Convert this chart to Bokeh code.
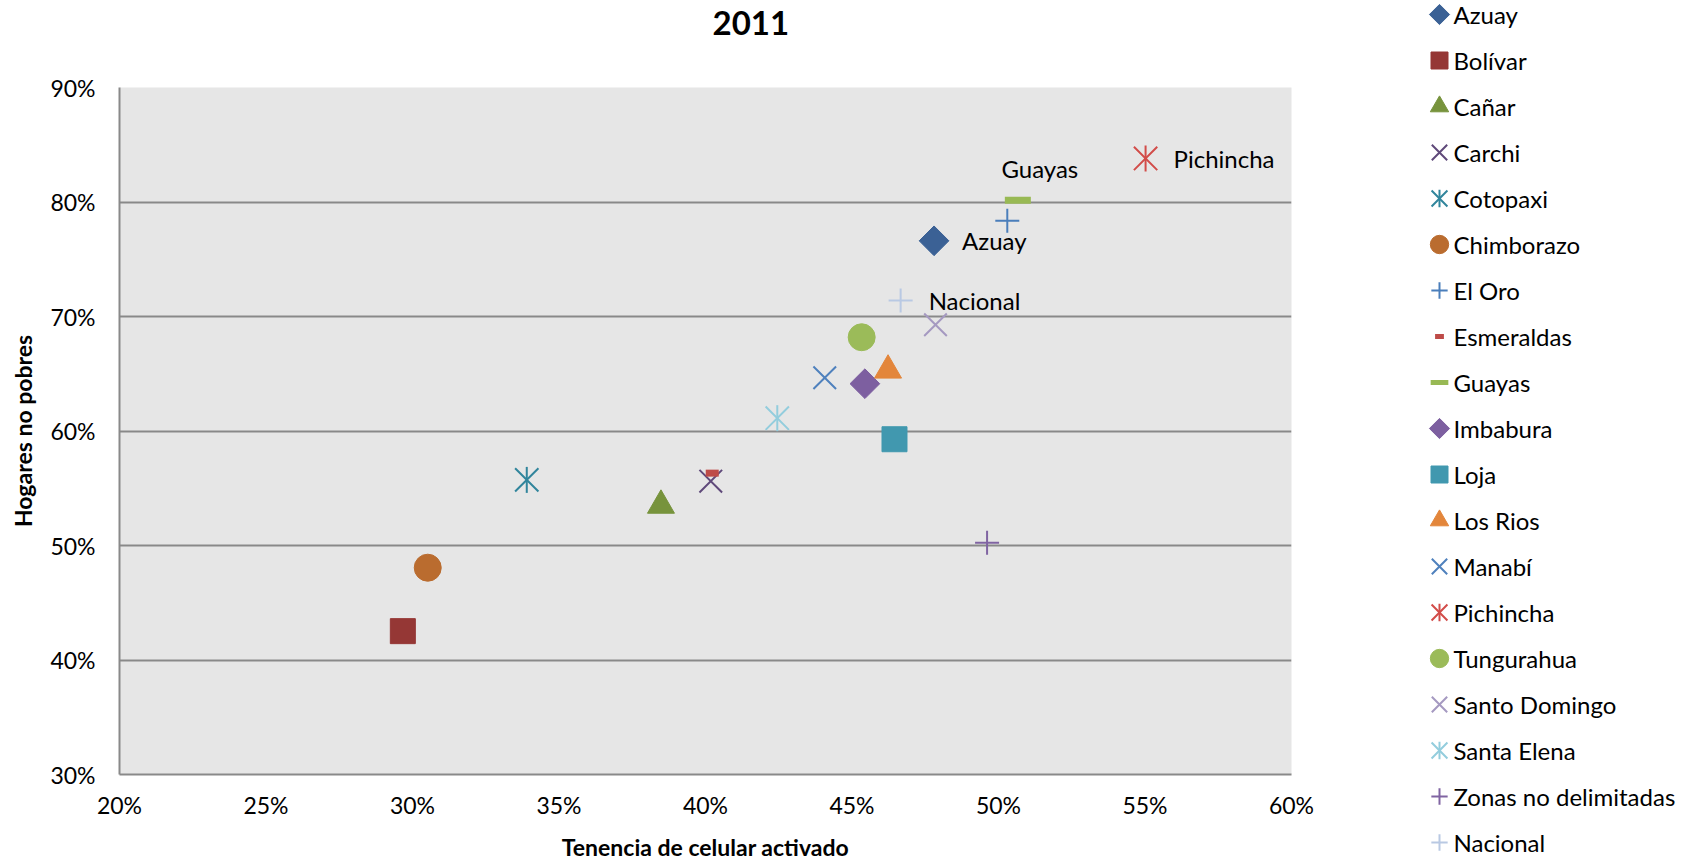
import math
from bokeh.plotting import figure
from bokeh.models import (ColumnDataSource, NumeralTickFormatter, FixedTicker, Range1d, Title)
from bokeh.layouts import row, column
from bokeh.embed import file_html
from bokeh.resources import INLINE
from bokeh.core.properties import value

# ---------------- data ----------------
title_text = "2011"
x_axis_title = "Tenencia de celular activado"
y_axis_title = "Hogares no pobres"

categories = ["Azuay", "Bolívar", "Cañar", "Carchi", "Cotopaxi", "Chimborazo",
              "El Oro", "Esmeraldas", "Guayas", "Imbabura", "Loja", "Los Rios",
              "Manabí", "Pichincha", "Tungurahua", "Santo Domingo", "Santa Elena",
              "Zonas no delimitadas", "Nacional"]
tenencia_celular = [0.478, 0.2967, 0.3848, 0.4018, 0.3390, 0.3052,
                    0.5030, 0.4023, 0.5066, 0.4544, 0.4645, 0.4623,
                    0.4407, 0.5502, 0.4533, 0.4785, 0.4245,
                    0.4961, 0.4666]
hogares_no_pobres = [0.7661, 0.4252, 0.5350, 0.5562, 0.5573, 0.4806,
                     0.7836, 0.5632, 0.8016, 0.6413, 0.5928, 0.6530,
                     0.6465, 0.8380, 0.6819, 0.6928, 0.6112,
                     0.5025, 0.7140]
x_ticks = [0.20, 0.25, 0.30, 0.35, 0.40, 0.45, 0.50, 0.55, 0.60]
y_ticks = [0.30, 0.40, 0.50, 0.60, 0.70, 0.80, 0.90]
labeled_right = ["Azuay", "Nacional", "Pichincha"]
labeled_above = ["Guayas"]

# ---------------- styles ----------------
styles = {
    "Azuay": ("diamond", "#3B6195"),
    "Bolívar": ("square", "#953735"),
    "Cañar": ("triangle", "#77933C"),
    "Carchi": ("x", "#5F497A"),
    "Cotopaxi": ("star", "#31859C"),
    "Chimborazo": ("circle", "#BA6C2F"),
    "El Oro": ("cross", "#4A7EBB"),
    "Esmeraldas": ("smalldash", "#BE4B48"),
    "Guayas": ("bigdash", "#98B954"),
    "Imbabura": ("diamond", "#7D5FA0"),
    "Loja": ("square", "#4198AF"),
    "Los Rios": ("triangle", "#E3863B"),
    "Manabí": ("x", "#4F81BD"),
    "Pichincha": ("star", "#D24C49"),
    "Tungurahua": ("circle", "#9BBB59"),
    "Santo Domingo": ("x", "#A599C1"),
    "Santa Elena": ("star", "#93CDDD"),
    "Zonas no delimitadas": ("cross", "#8064A2"),
    "Nacional": ("cross", "#B9C9E3"),
}

FONT = "Lato"
GRID = "#898989"
FIG_H = 859


def draw_marker(fig, src, kind, color, k):
    """Draw one Excel-like marker; k scales the marker size."""
    rs = []
    if kind == "diamond":
        rs.append(fig.scatter("x", "y", source=src, marker="square", size=21 * k,
                              angle=math.pi / 4, fill_color=color, line_color=color))
    elif kind == "square":
        rs.append(fig.scatter("x", "y", source=src, marker="square", size=25 * k,
                              fill_color=color, line_color=color))
    elif kind == "triangle":
        rs.append(fig.scatter("x", "y", source=src, marker="triangle", size=27 * k,
                              fill_color=color, line_color=color))
    elif kind == "circle":
        rs.append(fig.scatter("x", "y", source=src, marker="circle", size=27 * k,
                              fill_color=color, line_color=color))
    elif kind == "x":
        rs.append(fig.scatter("x", "y", source=src, marker="x", size=32 * k,
                              line_color=color, line_width=2))
    elif kind == "cross":
        rs.append(fig.scatter("x", "y", source=src, marker="cross", size=24 * k,
                              line_color=color, line_width=2))
    elif kind == "star":
        rs.append(fig.scatter("x", "y", source=src, marker="x", size=33 * k,
                              line_color=color, line_width=2))
        rs.append(fig.scatter("x", "y", source=src, marker="dash", size=26 * k,
                              angle=math.pi / 2, line_color=color, line_width=2))
    elif kind == "smalldash":
        rs.append(fig.scatter("x", "y", source=src, marker="dash", size=13 * k,
                              line_color=color, line_width=7 * k))
    elif kind == "bigdash":
        rs.append(fig.scatter("x", "y", source=src, marker="dash", size=26 * k,
                              line_color=color, line_width=7 * k))
    return rs


# ---------------- main chart ----------------
p = figure(frame_width=1172, frame_height=687, output_backend="svg", toolbar_location=None,
           x_range=Range1d(0.20, 0.60), y_range=Range1d(0.30, 0.90),
           min_border_left=119, min_border_top=87, min_border_bottom=85, min_border_right=30)
p.background_fill_color = "#E6E6E6"
p.border_fill_color = "white"
p.outline_line_color = None

# title: a spacer title next to the frame, then the real title above it
p.title.text = ""
p.add_layout(Title(text=" ", text_font_size="20px", standoff=29, text_color="white"), "above")
p.add_layout(Title(text=title_text, text_font=FONT, text_font_style="bold",
                   text_font_size="33px", text_color="black", align="left",
                   offset=593, standoff=0), "above")

p.xaxis.ticker = FixedTicker(ticks=x_ticks)
p.yaxis.ticker = FixedTicker(ticks=y_ticks)
p.xaxis.formatter = NumeralTickFormatter(format="0%")
p.yaxis.formatter = NumeralTickFormatter(format="0%")
for ax in (p.xaxis, p.yaxis):
    ax.major_tick_line_color = None
    ax.minor_tick_line_color = None
    ax.major_tick_out = 0
    ax.major_tick_in = 0
    ax.axis_line_color = GRID
    ax.axis_line_width = 2
    ax.major_label_text_font = FONT
    ax.major_label_text_font_size = "23px"
    ax.major_label_text_color = "black"
    ax.axis_label_text_font = FONT
    ax.axis_label_text_font_style = "bold"
    ax.axis_label_text_font_size = "23px"
    ax.axis_label_text_color = "black"
p.xaxis.axis_label = x_axis_title
p.yaxis.axis_label = y_axis_title
p.xaxis.major_label_standoff = 16
p.xaxis.axis_label_standoff = 11
p.yaxis.major_label_standoff = 24
p.yaxis.axis_label_standoff = 10

p.xgrid.grid_line_color = None
p.ygrid.grid_line_color = GRID
p.ygrid.grid_line_width = 2

for i, cat in enumerate(categories):
    kind, color = styles[cat]
    src = ColumnDataSource(dict(x=[tenencia_celular[i]], y=[hogares_no_pobres[i]]))
    draw_marker(p, src, kind, color, 1.0)

# data labels
idx_r = [categories.index(c) for c in labeled_right]
src_r = ColumnDataSource(dict(x=[tenencia_celular[i] for i in idx_r],
                              y=[hogares_no_pobres[i] for i in idx_r],
                              t=labeled_right))
p.text("x", "y", text="t", source=src_r, x_offset=28, y_offset=0,
       text_align="left", text_baseline="middle", text_font=value(FONT),
       text_font_size="24px", text_color="black")
idx_a = [categories.index(c) for c in labeled_above]
src_a = ColumnDataSource(dict(x=[tenencia_celular[i] for i in idx_a],
                              y=[hogares_no_pobres[i] for i in idx_a],
                              t=labeled_above))
p.text("x", "y", text="t", source=src_a, x_offset=22, y_offset=-32,
       text_align="center", text_baseline="middle", text_font=value(FONT),
       text_font_size="24px", text_color="black")

# ---------------- legend (one entry per category, in series order) ----------------
LW = 370
PITCH = 46.0
TOP = 14
lg = figure(title=None, frame_width=LW, frame_height=FIG_H, output_backend="svg",
            toolbar_location=None, min_border=0, min_border_top=0, min_border_bottom=0,
            min_border_left=0, min_border_right=0,
            x_axis_type=None, y_axis_type=None,
            x_range=Range1d(-118, LW - 118),
            y_range=Range1d((FIG_H - TOP) / PITCH, -TOP / PITCH))
lg.grid.visible = False
lg.outline_line_color = None
lg.background_fill_color = "white"
lg.border_fill_color = "white"

for i, cat in enumerate(categories):
    kind, color = styles[cat]
    src = ColumnDataSource(dict(x=[0], y=[i]))
    draw_marker(lg, src, kind, color, 0.68)
src_l = ColumnDataSource(dict(x=[14] * len(categories), y=list(range(len(categories))),
                              t=categories))
lg.text("x", "y", text="t", source=src_l, text_align="left", text_baseline="middle",
        text_font=value(FONT), text_font_size="24px", text_color="black")

layout = row(column(p), column(lg))
open("out.html", "w").write(file_html(layout, INLINE))
